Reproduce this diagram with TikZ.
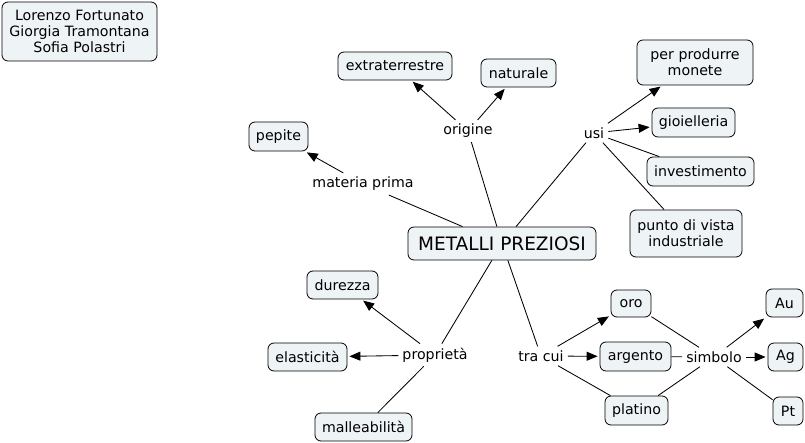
\documentclass[tikz,border=0pt]{standalone}
\usepackage{fontspec}
\setmainfont{DejaVu Sans}
\usetikzlibrary{arrows.meta}
\definecolor{boxfill}{RGB}{238,243,246}
\tikzset{
  concept/.style={draw=black, fill=boxfill, rounded corners=6pt, line width=0.8pt,
    inner sep=0pt, align=center, font=\fontsize{14.2}{16}\selectfont},
  linklabel/.style={inner sep=4pt, font=\fontsize{14.2}{16}\selectfont},
  conn/.style={line width=0.85pt},
  arr/.style={line width=0.85pt, -{Triangle[length=11pt,width=9pt]}, shorten >=2pt},
}
\begin{document}
\begin{tikzpicture}[x=1pt,y=-1pt]
\useasboundingbox (0,0) rectangle (805,443);
% concepts
\node[concept, minimum width=155pt, minimum height=59pt] (auth) at (79.5,31.5) {Lorenzo Fortunato\\Giorgia Tramontana\\Sofia Polastri};
\node[concept, minimum width=188pt, minimum height=33pt, font=\fontsize{18.5}{20}\selectfont] (main) at (502,243.5) {METALLI PREZIOSI};
\node[concept, minimum width=114pt, minimum height=28pt] (ext) at (395,66) {extraterrestre};
\node[concept, minimum width=75pt, minimum height=28pt] (nat) at (518.5,73) {naturale};
\node[concept, minimum width=59pt, minimum height=29pt] (pep) at (278.5,136.5) {pepite};
\node[concept, minimum width=116pt, minimum height=45pt] (mon) at (695,62.5) {per produrre\\monete};
\node[concept, minimum width=83pt, minimum height=29pt] (gio) at (693.5,122.5) {gioielleria};
\node[concept, minimum width=107pt, minimum height=29pt] (inv) at (700.5,171.5) {investimento};
\node[concept, minimum width=112pt, minimum height=47pt] (ind) at (686,233.5) {punto di vista\\industriale};
\node[concept, minimum width=71pt, minimum height=28pt] (dur) at (342.5,285) {durezza};
\node[concept, minimum width=79pt, minimum height=28pt] (ela) at (307.5,357) {elasticità};
\node[concept, minimum width=97pt, minimum height=28pt] (mal) at (363.5,427) {malleabilità};
\node[concept, minimum width=40pt, minimum height=27pt] (oro) at (631,303.5) {oro};
\node[concept, minimum width=71pt, minimum height=29pt] (arg) at (635.5,356.5) {argento};
\node[concept, minimum width=63pt, minimum height=29pt] (pla) at (636.5,410.5) {platino};
\node[concept, minimum width=37pt, minimum height=28pt] (au) at (784.5,303) {Au};
\node[concept, minimum width=35pt, minimum height=28pt] (ag) at (785.5,357) {Ag};
\node[concept, minimum width=30pt, minimum height=28pt] (pt) at (788,411) {Pt};
% link labels
\node[linklabel] (ori) at (468,131) {origine};
\node[linklabel] (mat) at (363,184) {materia prima};
\node[linklabel] (usi) at (594,133) {usi};
\node[linklabel] (pro) at (435,355) {proprietà};
\node[linklabel] (tra) at (541,356) {tra cui};
\node[linklabel] (sim) at (714,357) {simbolo};
% connectors
\draw[conn] (main) -- (ori);
\draw[arr] (ori) -- (ext);
\draw[arr] (ori) -- (nat);
\draw[conn] (main) -- (mat);
\draw[arr] (mat) -- (pep);
\draw[conn] (main) -- (usi);
\draw[arr] (usi) -- (mon);
\draw[arr] (usi) -- (gio);
\draw[conn] (usi) -- (inv);
\draw[conn] (usi) -- (ind);
\draw[conn] (main) -- (pro);
\draw[arr] (pro) -- (dur);
\draw[arr] (pro) -- (ela);
\draw[conn] (pro) -- (mal);
\draw[conn] (main) -- (tra);
\draw[arr] (tra) -- (oro);
\draw[arr] (tra) -- (arg);
\draw[conn] (tra) -- (pla);
\draw[conn] (oro) -- (sim);
\draw[conn] (arg) -- (sim);
\draw[conn] (pla) -- (sim);
\draw[arr] (sim) -- (au);
\draw[arr] (sim) -- (ag);
\draw[conn] (sim) -- (pt);
\end{tikzpicture}
\end{document}
